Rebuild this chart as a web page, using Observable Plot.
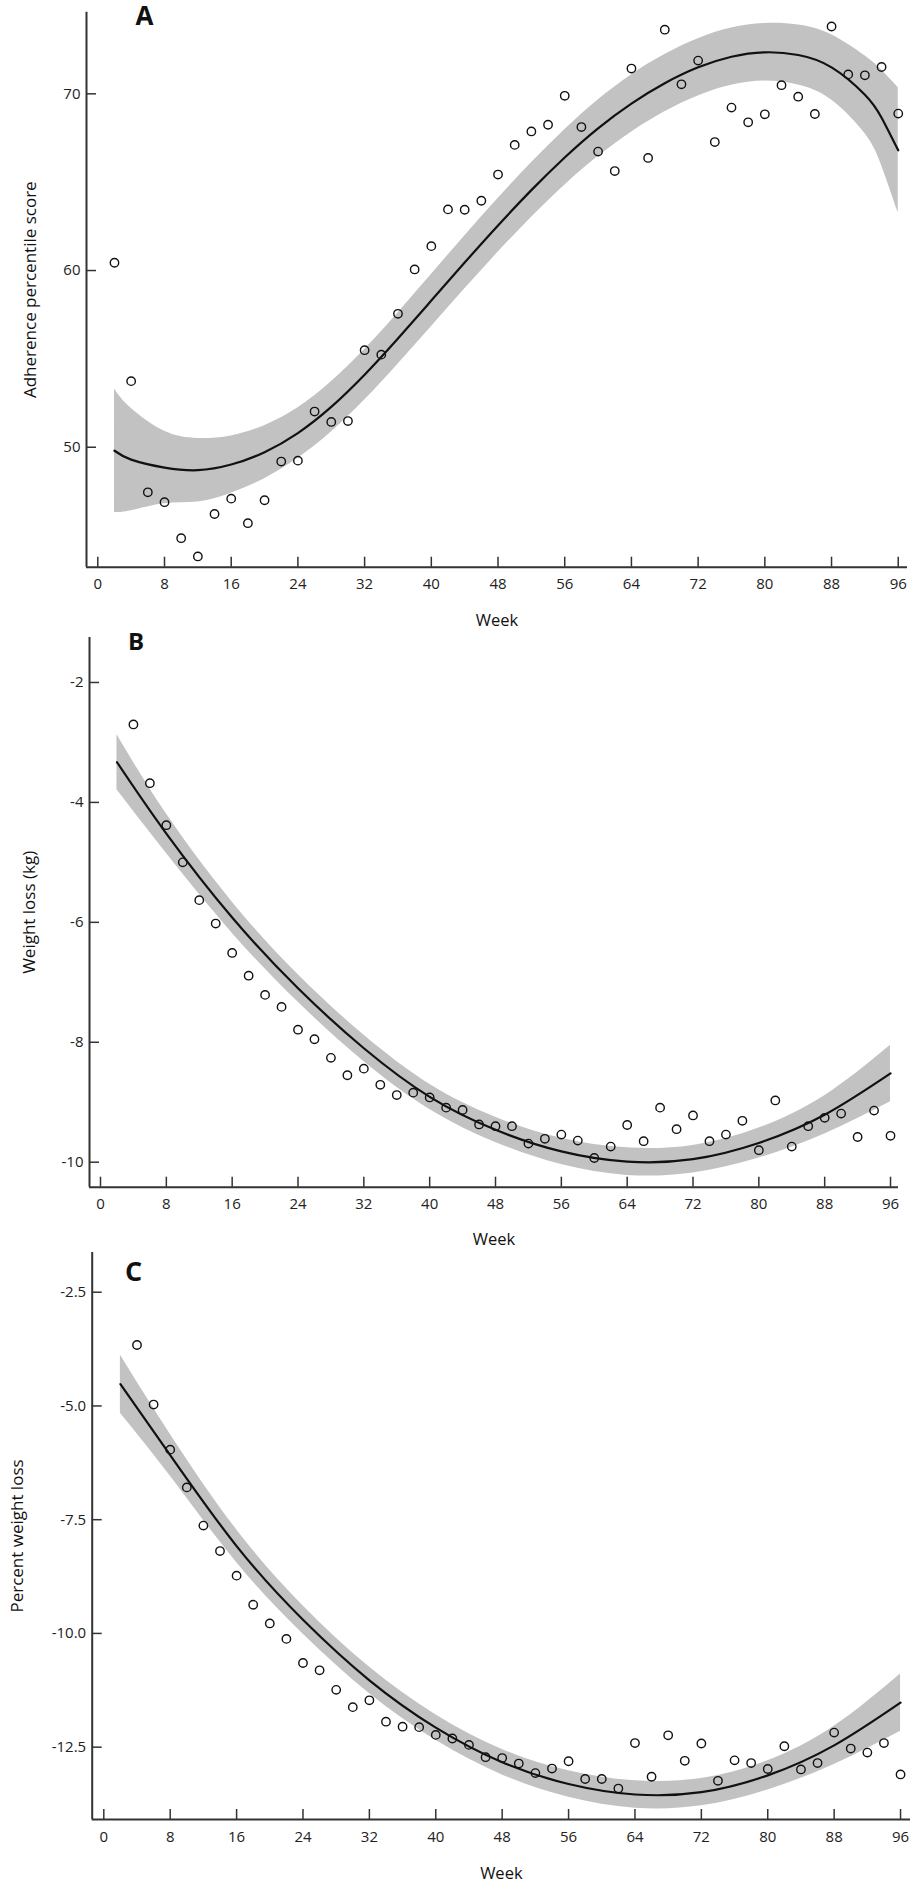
<!DOCTYPE html>
<html>
<head>
<meta charset="utf-8">
<script src="https://cdn.jsdelivr.net/npm/d3@7"></script>
<script src="https://cdn.jsdelivr.net/npm/@observablehq/plot@0.6"></script>
<style>
  html, body { margin: 0; padding: 0; background: #fff; }
  #chart svg { display: block; }
</style>
</head>
<body>
<div id="chart"></div>
<script>
// ---------- Data ----------
const xTicks = [0, 8, 16, 24, 32, 40, 48, 56, 64, 72, 80, 88, 96];
const yTicksA = [50, 60, 70];
const yTicksB = [-10, -8, -6, -4, -2];
const yTicksC = [-12.5, -10, -7.5, -5, -2.5];

// Panel A: adherence percentile score (observed), weeks 2..96
const weeksA = [2,4,6,8,10,12,14,16,18,20,22,24,26,28,30,32,34,36,38,40,42,44,46,48,
                50,52,54,56,58,60,62,64,66,68,70,72,74,76,78,80,82,84,86,88,90,92,94,96];
const adherence = [60.44,53.74,47.45,46.89,44.85,43.82,46.22,47.09,45.70,47.00,49.19,49.24,
                   52.02,51.43,51.48,55.49,55.24,57.55,60.06,61.38,63.46,63.44,63.95,65.43,
                   67.11,67.87,68.25,69.89,68.12,66.73,65.63,71.43,66.37,73.63,70.54,71.88,
                   67.27,69.22,68.39,68.84,70.49,69.84,68.86,73.81,71.10,71.05,71.52,68.88];

// Panels B and C observed, weeks 4..96
const weeksBC = [4,6,8,10,12,14,16,18,20,22,24,26,28,30,32,34,36,38,40,42,44,46,48,
                 50,52,54,56,58,60,62,64,66,68,70,72,74,76,78,80,82,84,86,88,90,92,94,96];
const weightKg = [-2.70,-3.68,-4.38,-5.00,-5.63,-6.02,-6.51,-6.89,-7.21,-7.41,-7.79,-7.95,
                  -8.26,-8.55,-8.44,-8.71,-8.88,-8.84,-8.92,-9.09,-9.13,-9.37,-9.40,-9.40,
                  -9.69,-9.61,-9.54,-9.64,-9.93,-9.74,-9.38,-9.65,-9.09,-9.45,-9.22,-9.65,
                  -9.54,-9.31,-9.80,-8.97,-9.74,-9.40,-9.26,-9.19,-9.58,-9.14,-9.56];
const weightPct = [-3.66,-4.97,-5.96,-6.79,-7.63,-8.19,-8.73,-9.37,-9.78,-10.12,-10.65,-10.81,
                   -11.24,-11.62,-11.47,-11.94,-12.05,-12.06,-12.23,-12.31,-12.45,-12.72,-12.74,
                   -12.86,-13.07,-12.97,-12.81,-13.20,-13.20,-13.41,-12.41,-13.15,-12.24,-12.80,
                   -12.42,-13.24,-12.79,-12.85,-12.98,-12.48,-12.99,-12.85,-12.18,-12.53,-12.62,
                   -12.41,-13.10];

// Fitted curves and confidence bands
const fitWeeksA = [2,4,8,12,16,20,24,28,32,36,40,44,48,52,56,60,64,68,72,76,80,84,88,92,94,96];
const fitA     = [49.80,49.30,48.85,48.70,49.02,49.72,50.80,52.28,54.10,56.15,58.30,60.45,62.55,
                  64.55,66.40,68.05,69.45,70.60,71.50,72.10,72.35,72.20,71.50,69.95,68.65,66.80];
const fitAHigh = [53.30,52.20,50.90,50.50,50.64,51.22,52.23,53.70,55.53,57.60,59.78,61.95,64.07,
                  66.10,67.97,69.65,71.07,72.22,73.12,73.72,73.98,73.90,73.35,72.15,71.35,70.35];
const fitALow  = [46.30,46.40,46.80,46.90,47.40,48.22,49.37,50.86,52.67,54.70,56.82,58.95,61.03,
                  63.00,64.83,66.45,67.83,68.98,69.88,70.48,70.72,70.50,69.65,67.75,65.95,63.25];

const fitWeeksBC = [2,8,16,24,32,40,48,56,64,72,80,88,96];
const fitB     = [-3.33,-4.52,-5.92,-7.10,-8.10,-8.91,-9.46,-9.82,-9.99,-9.95,-9.68,-9.21,-8.52];
const fitBHigh = [-2.87,-4.19,-5.66,-6.87,-7.88,-8.70,-9.25,-9.60,-9.76,-9.72,-9.43,-8.89,-8.05];
const fitBLow  = [-3.79,-4.85,-6.18,-7.33,-8.32,-9.12,-9.67,-10.04,-10.22,-10.18,-9.93,-9.53,-8.99];
const fitC     = [-4.52,-6.08,-8.08,-9.70,-11.03,-12.07,-12.83,-13.31,-13.54,-13.49,-13.12,-12.46,-11.52];
const fitCHigh = [-3.88,-5.62,-7.72,-9.39,-10.74,-11.79,-12.55,-13.02,-13.24,-13.19,-12.80,-12.04,-10.89];
const fitCLow  = [-5.16,-6.54,-8.44,-10.01,-11.32,-12.35,-13.11,-13.60,-13.84,-13.79,-13.44,-12.88,-12.15];

// ---------- Drawing ----------
const FONT = "'Open Sans', 'DejaVu Sans', sans-serif";
const INK = "#111";
const AXIS = "#333";
const BAND = "#c2c2c2";

function panel(o) {
  const pts = o.weeks.map((w, i) => ({week: w, v: o.values[i]}));
  const fit = o.fitWeeks.map((w, i) => ({week: w, v: o.fit[i], lo: o.low[i], hi: o.high[i]}));
  const plotH = o.height - o.mt - o.mb;
  const plotW = 915 - o.ml - o.mr;
  return Plot.plot({
    width: 915,
    height: o.height,
    marginTop: o.mt, marginBottom: o.mb, marginLeft: o.ml, marginRight: o.mr,
    style: {fontFamily: FONT, background: "#fff", overflow: "visible"},
    x: {domain: o.xDomain, axis: null},
    y: {domain: o.yDomain, axis: null},
    marks: [
      Plot.areaY(fit, {x: "week", y1: "lo", y2: "hi", fill: BAND, curve: "natural"}),
      Plot.line(fit, {x: "week", y: "v", stroke: INK, strokeWidth: 2.2, curve: "natural"}),
      Plot.dot(pts, {x: "week", y: "v", r: 4.2, stroke: INK, strokeWidth: 1.4, fill: "none"}),
      // tick marks (inward)
      Plot.ruleX(xTicks, {x: d => d, insetTop: plotH - 10, stroke: AXIS, strokeWidth: 1.5}),
      Plot.ruleY(o.yTicks, {y: d => d, insetRight: plotW - 10, stroke: AXIS, strokeWidth: 1.5}),
      // axis lines
      Plot.ruleY([o.yDomain[0]], {stroke: AXIS, strokeWidth: 2}),
      Plot.ruleX([o.xDomain[0]], {stroke: AXIS, strokeWidth: 2}),
      // tick labels
      Plot.text(xTicks, {x: d => d, frameAnchor: "bottom", dy: 17.3, text: d => String(d),
                         textAnchor: "middle", lineAnchor: "middle", fontSize: 15, fill: "#222"}),
      Plot.text(o.yTicks, {y: d => d, frameAnchor: "left", dx: -6, textAnchor: "end",
                           lineAnchor: "middle", text: o.yFormat, fontSize: 15, fill: "#222"}),
      // axis titles
      Plot.text(["Week"], {frameAnchor: "bottom", dy: o.weekDy, text: d => d, textAnchor: "middle",
                           lineAnchor: "middle", fontSize: 16.5, fill: "#111"}),
      Plot.text([o.yLabel], {frameAnchor: "left", dx: o.yLabelDx, rotate: -90, text: d => d,
                             textAnchor: "middle", lineAnchor: "middle", fontSize: 17, fill: "#111"}),
      // panel letter
      Plot.text([o.letter], {frameAnchor: "top-left", dx: o.letterDx, dy: o.letterDy, text: d => d,
                             textAnchor: "middle", lineAnchor: "middle",
                             fontSize: o.letterSize, fontWeight: "bold", fill: "#111"})
    ]
  });
}

const chart = document.getElementById("chart");

chart.appendChild(panel({
  height: 630, mt: 11.7, mb: 63.3, ml: 86, mr: 8,
  xDomain: [-1.355, 97.11], yDomain: [43.21, 74.62],
  weeks: weeksA, values: adherence,
  fitWeeks: fitWeeksA, fit: fitA, low: fitALow, high: fitAHigh,
  yTicks: yTicksA, yFormat: d => String(d),
  yLabel: "Adherence percentile score", yLabelDx: -55.5,
  weekDy: 53.3,
  letter: "A", letterDx: 58, letterDy: 4.8, letterSize: 26
}));

chart.appendChild(panel({
  height: 620, mt: 7, mb: 63.3, ml: 89, mr: 17,
  xDomain: [-1.337, 96.97], yDomain: [-10.417, -1.25],
  weeks: weeksBC, values: weightKg,
  fitWeeks: fitWeeksBC, fit: fitB, low: fitBLow, high: fitBHigh,
  yTicks: yTicksB, yFormat: d => String(d),
  yLabel: "Weight loss (kg)", yLabelDx: -59.5,
  weekDy: 52.3,
  letter: "B", letterDx: 46.5, letterDy: 4.7, letterSize: 24
}));

chart.appendChild(panel({
  height: 637, mt: 2, mb: 68, ml: 91.7, mr: 5,
  xDomain: [-1.398, 97.2], yDomain: [-14.09, -1.627],
  weeks: weeksBC, values: weightPct,
  fitWeeks: fitWeeksBC, fit: fitC, low: fitCLow, high: fitCHigh,
  yTicks: yTicksC, yFormat: d => d.toFixed(1),
  yLabel: "Percent weight loss", yLabelDx: -74.7,
  weekDy: 54,
  letter: "C", letterDx: 41.3, letterDy: 20, letterSize: 27
}));
</script>
</body>
</html>
